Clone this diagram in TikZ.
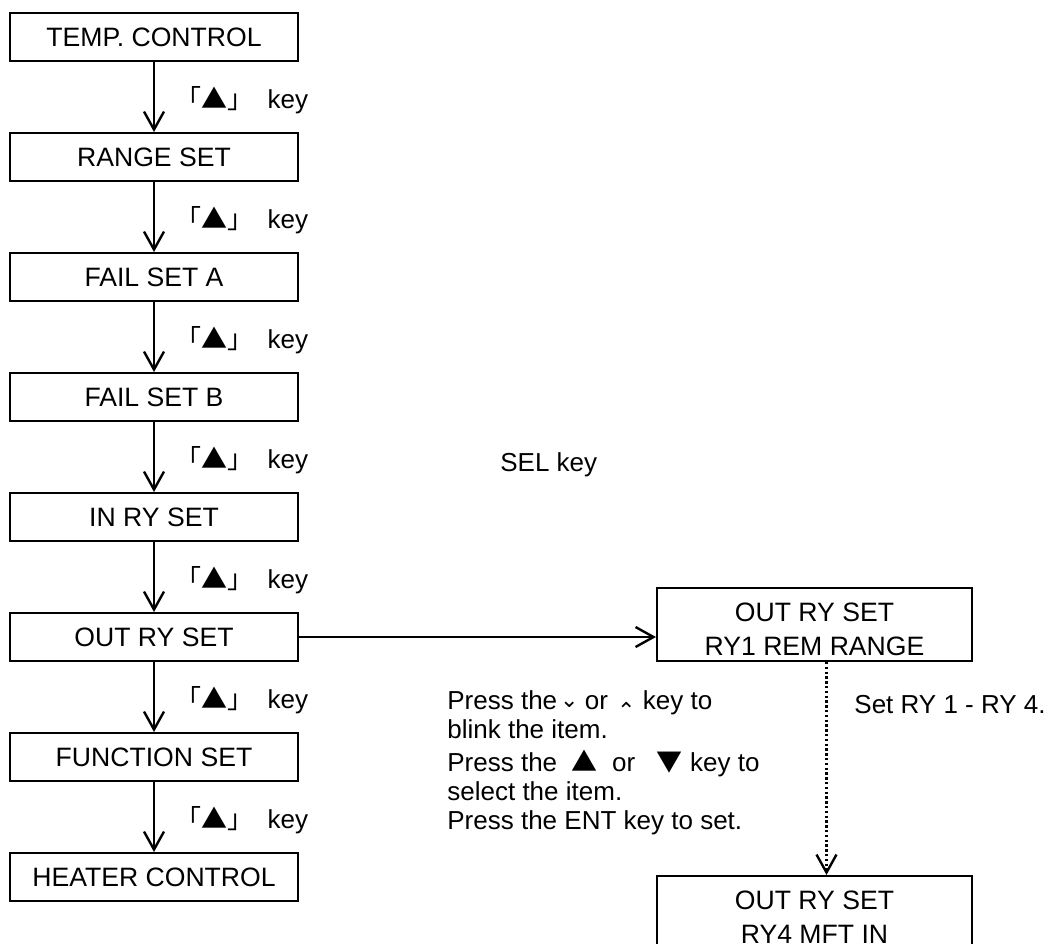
\documentclass[tikz,border=0pt]{standalone}
\usepackage{fontspec}
\setmainfont{Liberation Sans}
\newfontfamily\cjk{Noto Sans CJK JP}
\newfontfamily\symb{DejaVu Sans}
\usepackage{tikz}
\usetikzlibrary{positioning, arrows.meta}
\newcommand{\upkey}{{\cjk 「▲」}\ \ key}
\newcommand{\chev}[2]{\raisebox{#1}{\symb\fontsize{11pt}{11pt}\selectfont #2}}
\newcommand{\twolines}[2]{\raisebox{-3.5pt}[\height][\depth]{\begin{tabular}{@{}c@{}}#1\\#2\end{tabular}}}

\begin{document}
\begin{tikzpicture}[
        x=0.5pt, y=-0.5pt,
        node distance=35pt,
        font=\fontsize{13pt}{14.5pt}\selectfont,
        >={Straight Barb[length=9pt, width=10pt]},
        % box styles
        box/.style={rectangle, draw=black, line width=1pt, minimum width=144pt, minimum height=24pt, inner sep=0pt, text centered, font=\fontsize{13.3pt}{15pt}\selectfont},
        twobox/.style={rectangle, draw=black, line width=1pt, minimum width=157.5pt, minimum height=36.5pt, inner sep=0pt, font=\fontsize{13.3pt}{17pt}\selectfont},
        arrow/.style={line width=1.2pt, ->},
        dotarrow/.style={line width=1.2pt, dash pattern=on 1.2pt off 1.2pt, ->},
        keylabel/.style={anchor=west, xshift=10pt, yshift=-1.5pt, inner sep=0pt},
        note/.style={inner sep=0pt, align=left}
    ]
    \useasboundingbox (0,0) rectangle (1049,943);

    % --- 1. MENU BOXES ---
    \node[box] (temp) at (154,37) {TEMP. CONTROL};
    \node[box, below=of temp] (range) {RANGE SET};
    \node[box, below=of range] (faila) {FAIL SET A};
    \node[box, below=of faila] (failb) {FAIL SET B};
    \node[box, below=of failb] (inry) {IN RY SET};
    \node[box, below=of inry] (outry) {OUT RY SET};
    \node[box, below=of outry] (func) {FUNCTION SET};
    \node[box, below=of func] (heater) {HEATER CONTROL};

    % sub menu
    \node[twobox] (ry1) at (814.5,624.5) {\twolines{OUT RY SET}{RY1 REM RANGE}};
    \node[twobox, below=106.5pt of ry1] (ry4) {\twolines{OUT RY SET}{RY4 MFT IN}};

    % --- 2. TEXTS ---
    \node[note, anchor=west] (sel) at (500,465) {SEL key};
    \node[note, anchor=north west] (howto) at (447,690) {
        Press the\kern1.5pt\chev{1pt}{⌄}\kern-0.5pt\ or\ \kern1pt\chev{-4.5pt}{⌃}\ key to\\
        blink the item.\\[2pt]
        Press the \ {\cjk ▲}\ \ or \ \ {\cjk ▼} key to\\
        select the item.\\
        Press the ENT key to set.
    };
    \node[note, anchor=west] (setry) at (854,705) {Set RY 1 - RY 4.};

    % --- 3. MAIN AXIS ---
    \draw[arrow] (temp) -- node[keylabel] {\upkey} (range);
    \draw[arrow] (range) -- node[keylabel] {\upkey} (faila);
    \draw[arrow] (faila) -- node[keylabel] {\upkey} (failb);
    \draw[arrow] (failb) -- node[keylabel] {\upkey} (inry);
    \draw[arrow] (inry) -- node[keylabel] {\upkey} (outry);
    \draw[arrow] (outry) -- node[keylabel] {\upkey} (func);
    \draw[arrow] (func) -- node[keylabel] {\upkey} (heater);

    % --- 4. BRANCH ---
    \draw[arrow] (outry.east) -- (outry.east -| ry1.west);
    \draw[dotarrow] ([xshift=6pt]ry1.south) -- ([xshift=6pt]ry4.north);

\end{tikzpicture}
\end{document}
